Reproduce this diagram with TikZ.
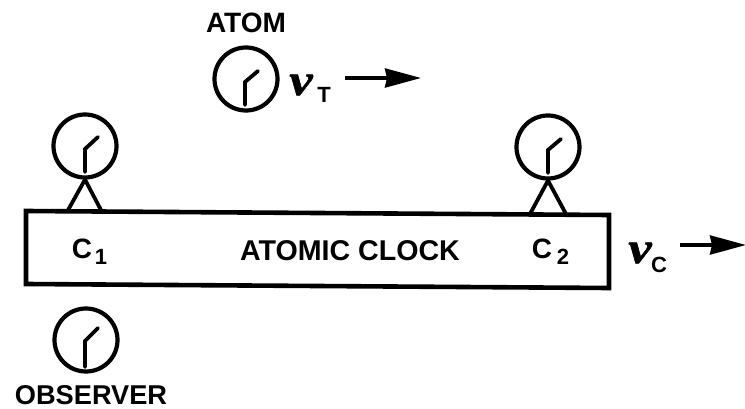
\documentclass[tikz,border=0pt]{standalone}
\usepackage{fontspec}
\setmainfont{Liberation Sans}
\newfontfamily\nufont[FakeStretch=1.2,FakeBold=1.2]{Liberation Serif}
\usetikzlibrary{arrows.meta,calc}
\tikzset{
  clockface/.style={circle,draw=black,line width=4.2pt,minimum size=63pt,inner sep=0pt},
  hand/.style={draw=black,line width=3.8pt,line cap=round,line join=miter},
  legs/.style={draw=black,line width=3.8pt,line join=miter},
  boxline/.style={draw=black,line width=4.6pt,line join=miter},
  lab/.style={inner sep=0pt,font=\fontsize{28}{30}\selectfont\bfseries,text=black},
  narrowlab/.style={inner sep=0pt,font=\fontsize{27.2}{30}\selectfont\bfseries,text=black},
  widelab/.style={inner sep=0pt,font=\fontsize{28.6}{30}\selectfont\bfseries,text=black},
  sublab/.style={inner sep=0pt,font=\fontsize{22}{24}\selectfont\bfseries,text=black},
  nulab/.style={inner sep=0pt,font=\fontsize{44}{46}\selectfont\nufont\bfseries\itshape,text=black},
  motion/.style={draw=black,line width=3.4pt,-{Stealth[length=36pt,width=19pt,inset=2pt]}}
}
\begin{document}
\begin{tikzpicture}[x=1pt,y=-1pt]
\useasboundingbox (0,0) rectangle (745,409);
% atomic clock body
\draw[boxline] (26,211) -- (609,215) -- (609,288) -- (26,284) -- cycle;
\coordinate (body1L) at (67,212);
\coordinate (body1R) at (102,212);
\coordinate (body2L) at (530,214);
\coordinate (body2R) at (566,214);
% clocks
\node[clockface] (atom) at (246,79) {};
\node[clockface] (c1clock) at (85,146) {};
\node[clockface] (c2clock) at (548,147) {};
\node[clockface] (obs) at (86,340) {};
% hands
\draw[hand] ($(atom)+(-1,26)$) -- ($(atom)+(-1,3)$) -- ($(atom)+(12,-8)$);
\draw[hand] ($(c1clock)+(0,26)$) -- ($(c1clock)+(0,3)$) -- ($(c1clock)+(13,-9)$);
\draw[hand] ($(c2clock)+(0,26)$) -- ($(c2clock)+(0,3)$) -- ($(c2clock)+(13,-8)$);
\draw[hand] ($(obs)+(-1,27)$) -- ($(obs)+(-1,1)$) -- ($(obs)+(12,-12)$);
% stands
\draw[legs] (body1L) -- (c1clock.south) -- (body1R);
\draw[legs] (body2L) -- (c2clock.south) -- (body2R);
% labels
\node[lab] (atomlab) at (246,23) {ATOM};
\node[narrowlab] (obslab) at (91,395) {OBSERVER};
\node[widelab] (clocklab) at (350,251) {ATOMIC CLOCK};
\node[lab] (c1lab) at (82,249) {C};
\node[sublab] (c1sub) at (101,257) {1};
\node[lab] (c2lab) at (542,249) {C};
\node[sublab] (c2sub) at (563,257) {2};
\node[nulab] (nut) at (301,85) {ν};
\node[sublab] (nutsub) at (324,95) {T};
\node[nulab] (nuc) at (640,253) {ν};
\node[sublab] (nucsub) at (659,265) {C};
% motion arrows
\coordinate (tend) at (421,78);
\coordinate (cend) at (746,245);
\coordinate (tstart) at (345,78);
\coordinate (cstart) at (680,245);
\draw[motion] (tstart) -- (tend);
\draw[motion] (cstart) -- (cend);
\end{tikzpicture}
\end{document}
